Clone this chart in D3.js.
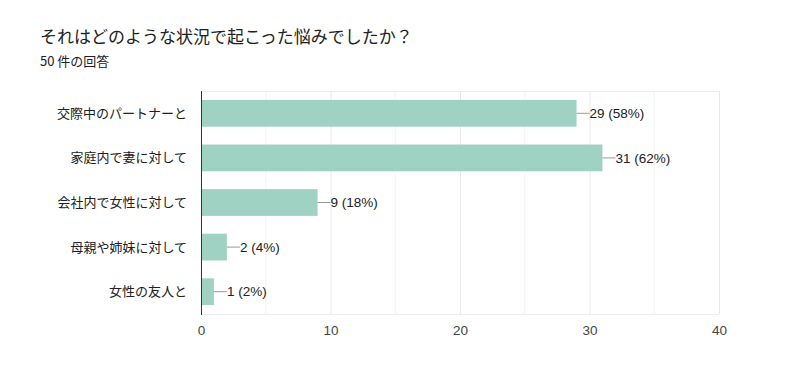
<!DOCTYPE html>
<html><head><meta charset="utf-8">
<script src="https://cdn.jsdelivr.net/npm/d3@7"></script>
<style>body{margin:0;background:#fff;}svg{display:block;font-family:"Noto Sans CJK JP","Liberation Sans",sans-serif;}</style>
</head><body><svg id="c" width="800" height="380"></svg>
<script>
const categories = ["交際中のパートナーと","家庭内で妻に対して","会社内で女性に対して","母親や姉妹に対して","女性の友人と"];
const counts = [29, 31, 9, 2, 1];
const percents = ["58%","62%","18%","4%","2%"];
const ticks = [0, 10, 20, 30, 40];
const minorTicks = [5, 15, 25, 35];
const title = "それはどのような状況で起こった悩みでしたか？";
const subtitle = "50 件の回答";

const svg = d3.select("#c");
const m = {l:201, r:719, t:91, b:314};
const x = d3.scaleLinear().domain([0,40]).range([m.l, m.r]);
const y = d3.scaleBand().domain(categories).range([m.t, m.b]).paddingInner(0.4).paddingOuter(0.2);

svg.append("text").attr("x",40).attr("y",43).attr("font-size",17).attr("fill","#202124").text(title);
svg.append("text").attr("x",40).attr("y",66).attr("font-size",13).attr("fill","#202124").text(subtitle);

// grid
const g = svg.append("g");
g.selectAll(".minor").data(minorTicks).join("line")
  .attr("x1",d=>x(d)).attr("x2",d=>x(d)).attr("y1",m.t).attr("y2",m.b)
  .attr("stroke","#f3f3f3").attr("stroke-width",1);
g.selectAll(".major").data(ticks.slice(1)).join("line")
  .attr("x1",d=>x(d)+0.5).attr("x2",d=>x(d)+0.5).attr("y1",m.t).attr("y2",m.b)
  .attr("stroke","#e8e8e8").attr("stroke-width",1);
g.append("line").attr("x1",m.l).attr("x2",m.r).attr("y1",m.t+0.5).attr("y2",m.t+0.5).attr("stroke","#ececec");
g.append("line").attr("x1",m.l).attr("x2",m.r).attr("y1",m.b+0.5).attr("y2",m.b+0.5).attr("stroke","#ececec");

// bars
svg.selectAll(".bar").data(categories).join("rect")
  .attr("x",x(0)).attr("y",d=>y(d)).attr("width",(d,i)=>x(counts[i])-x(0)).attr("height",y.bandwidth())
  .attr("fill","#9fd2c3");

// leader lines and labels
svg.selectAll(".lead").data(categories).join("line")
  .attr("x1",(d,i)=>x(counts[i])).attr("x2",(d,i)=>x(counts[i])+13)
  .attr("y1",d=>y(d)+y.bandwidth()/2).attr("y2",d=>y(d)+y.bandwidth()/2)
  .attr("stroke","#999").attr("stroke-width",1);
svg.selectAll(".val").data(categories).join("text")
  .attr("x",(d,i)=>x(counts[i])+13).attr("y",d=>y(d)+y.bandwidth()/2).attr("dy","0.35em")
  .attr("font-size",13.5).attr("fill","#202124").attr("font-family","Liberation Sans, Arial, sans-serif")
  .text((d,i)=>counts[i]+" ("+percents[i]+")");

// y axis line
svg.append("line").attr("x1",m.l+0.5).attr("x2",m.l+0.5).attr("y1",m.t).attr("y2",m.b+1).attr("stroke","#333");

// category labels
svg.selectAll(".cat").data(categories).join("text")
  .attr("x",187).attr("y",d=>y(d)+y.bandwidth()/2).attr("dy","0.35em").attr("text-anchor","end")
  .attr("font-size",13).attr("fill","#202124").text(d=>d);

// x tick labels
const xa = svg.append("g").attr("transform",`translate(0,${m.b})`)
  .call(d3.axisBottom(x).tickValues(ticks).tickSize(0).tickPadding(11).tickFormat(d3.format("d")));
xa.select(".domain").remove();
xa.selectAll("text").attr("font-size",13.5).attr("fill","#444").attr("font-family","Liberation Sans, Arial, sans-serif");
</script></body></html>
